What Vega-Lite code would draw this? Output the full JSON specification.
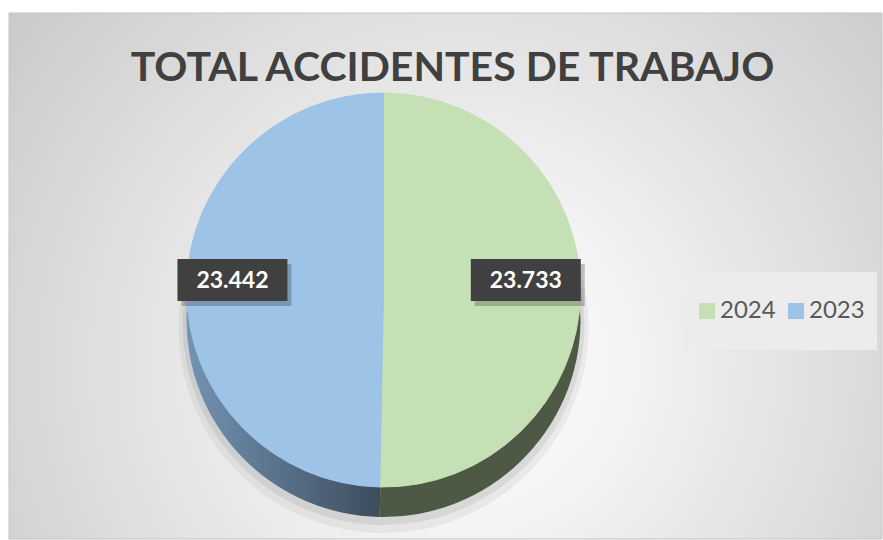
{
  "$schema": "https://vega.github.io/schema/vega-lite/v6.json",
  "width": 883,
  "height": 540,
  "autosize": {"type": "fit", "contains": "padding"},
  "padding": {"left": 8, "top": 12, "right": 0, "bottom": 0},
  "background": "#ffffff",
  "title": {
    "text": "TOTAL ACCIDENTES DE TRABAJO",
    "font": "Lato",
    "fontSize": 41,
    "fontWeight": "bold",
    "color": "#404040",
    "anchor": "middle",
    "baseline": "alphabetic",
    "offset": -109,
    "dx": 7
  },
  "data": {
    "values": [
      {"year": "2024", "value": 23733},
      {"year": "2023", "value": 23442}
    ]
  },
  "layer": [
    {
      "data": {"values": [{}]},
      "mark": {
        "type": "rect",
        "stroke": "#c4c4c4",
        "strokeWidth": 1,
        "fill": {
          "gradient": "radial",
          "x1": 0.52, "y1": 0.6, "r1": 0,
          "x2": 0.52, "y2": 0.6, "r2": 0.72,
          "stops": [
            {"offset": 0, "color": "#ffffff"},
            {"offset": 0.25, "color": "#f4f4f4"},
            {"offset": 1, "color": "#c4c4c4"}
          ]
        }
      },
      "encoding": {}
    },
    {
      "mark": {"type": "arc", "outerRadius": 205, "xOffset": -62, "yOffset": 52, "fill": "#000000", "fillOpacity": 0.05},
      "encoding": {
        "theta": {"field": "value", "type": "quantitative", "stack": true},
        "order": {"field": "year", "sort": "descending"}
      }
    },
    {
      "mark": {"type": "arc", "outerRadius": 201, "xOffset": -62, "yOffset": 48, "fill": "#000000", "fillOpacity": 0.07},
      "encoding": {
        "theta": {"field": "value", "type": "quantitative", "stack": true},
        "order": {"field": "year", "sort": "descending"}
      }
    },
    {
      "mark": {"type": "arc", "outerRadius": 197, "xOffset": -62, "yOffset": 44},
      "encoding": {
        "theta": {"field": "value", "type": "quantitative", "stack": true},
        "order": {"field": "year", "sort": "descending"},
        "fill": {
          "condition": {
            "test": "datum.year === '2023'",
            "value": {
              "gradient": "linear",
              "x1": 0, "y1": 0, "x2": 1, "y2": 0,
              "stops": [
                {"offset": 0, "color": "#7393b3"},
                {"offset": 1, "color": "#3d4b5b"}
              ]
            }
          },
          "value": "#4e5945"
        }
      }
    },
    {
      "mark": {"type": "arc", "outerRadius": 197, "xOffset": -62, "yOffset": 14, "strokeWidth": 1},
      "encoding": {
        "theta": {"field": "value", "type": "quantitative", "stack": true},
        "order": {"field": "year", "sort": "descending"},
        "stroke": {
          "field": "year",
          "type": "nominal",
          "scale": {"domain": ["2024", "2023"], "range": ["#c5e0b4", "#9dc3e6"]},
          "legend": null
        },
        "color": {
          "field": "year",
          "type": "nominal",
          "scale": {"domain": ["2024", "2023"], "range": ["#c5e0b4", "#9dc3e6"]},
          "legend": {
            "orient": "none",
            "legendX": 674,
            "legendY": 259,
            "direction": "horizontal",
            "title": null,
            "symbolType": "square",
            "symbolSize": 256,
            "symbolStrokeWidth": 0,
            "labelFont": "Lato",
            "labelFontSize": 24,
            "labelColor": "#595959",
            "labelOffset": 1,
            "columnPadding": 8,
            "padding": 12,
            "clipHeight": 54,
            "fillColor": "#ececec"
          }
        }
      }
    },
    {
      "mark": {"type": "point", "xOffset": 4, "yOffset": 9, "filled": true, "fill": "#000000", "opacity": 0.22, "strokeWidth": 0, "size": 12100, "shape": "M-1,-0.382L1,-0.382L1,0.382L-1,0.382Z"},
      "encoding": {
        "x": {"field": "year", "type": "nominal", "axis": null, "scale": {"type": "point", "domain": ["2023", "2024"], "padding": 0.988, "align": 0.3855}}
      }
    },
    {
      "mark": {"type": "point", "xOffset": 0, "yOffset": 4, "filled": true, "fill": "#404040", "opacity": 1, "strokeWidth": 0, "size": 12100, "shape": "M-1,-0.382L1,-0.382L1,0.382L-1,0.382Z"},
      "encoding": {
        "x": {"field": "year", "type": "nominal", "axis": null, "scale": {"type": "point", "domain": ["2023", "2024"], "padding": 0.988, "align": 0.3855}}
      }
    },
    {
      "mark": {"type": "text", "yOffset": 5, "font": "Lato", "fontSize": 23, "fontWeight": "bold", "fill": "#ffffff", "align": "center", "baseline": "middle"},
      "encoding": {
        "x": {"field": "year", "type": "nominal", "axis": null, "scale": {"type": "point", "domain": ["2023", "2024"], "padding": 0.988, "align": 0.3855}},
        "text": {"field": "value", "type": "quantitative", "format": ",d"}
      }
    }
  ],
  "config": {
    "locale": {
      "number": {"decimal": ",", "thousands": ".", "grouping": [3], "currency": ["", " €"]}
    },
    "view": {"stroke": null}
  }
}
